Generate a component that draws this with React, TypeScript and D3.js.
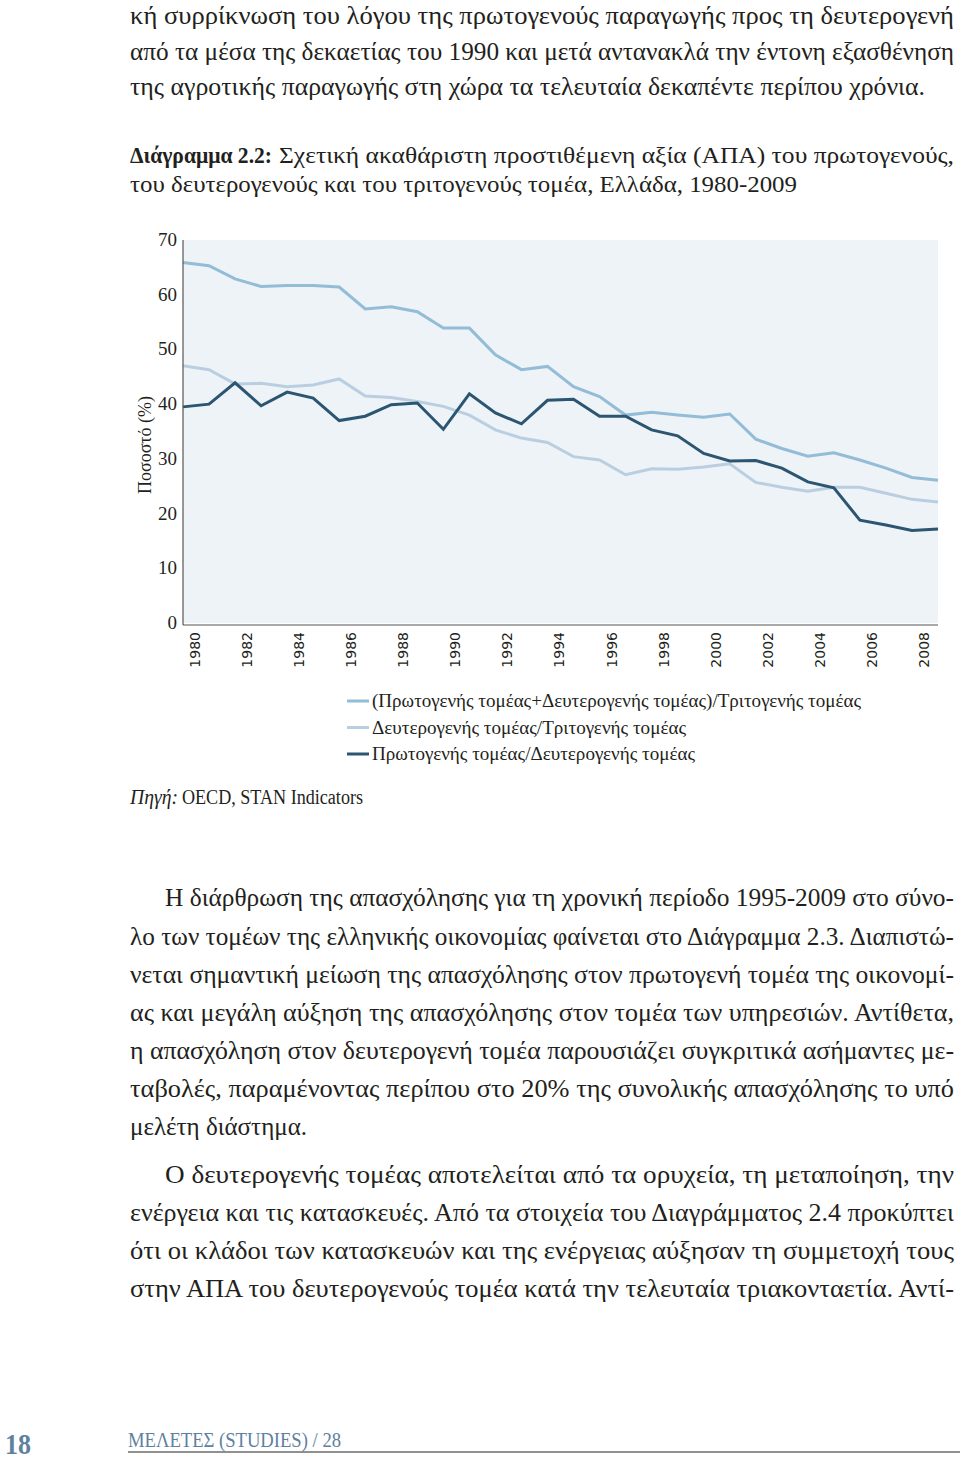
import React from "react";
import * as d3 from "d3";

const years = [1980,1981,1982,1983,1984,1985,1986,1987,1988,1989,1990,1991,1992,1993,1994,1995,1996,1997,1998,1999,2000,2001,2002,2003,2004,2005,2006,2007,2008,2009];
const primPlusSecOverTer = [65.9,65.3,62.9,61.5,61.7,61.7,61.4,57.4,57.8,56.9,53.9,53.9,49.0,46.3,46.9,43.2,41.4,38.0,38.5,38.0,37.6,38.2,33.6,31.9,30.5,31.1,29.8,28.3,26.6,26.1];
const secOverTer = [47.0,46.3,43.7,43.8,43.2,43.5,44.6,41.5,41.2,40.5,39.6,38.0,35.3,33.8,33.0,30.4,29.8,27.1,28.2,28.1,28.5,29.1,25.7,24.8,24.1,24.8,24.8,23.7,22.6,22.1];
const primOverSec = [39.5,40.0,43.9,39.7,42.2,41.1,37.0,37.8,39.9,40.2,35.4,41.9,38.4,36.4,40.7,40.9,37.8,37.8,35.3,34.2,31.0,29.6,29.7,28.3,25.8,24.7,18.8,17.9,16.9,17.2];
const xTickYears = [1980,1982,1984,1986,1988,1990,1992,1994,1996,1998,2000,2002,2004,2006,2008];
const yTicks = [0,10,20,30,40,50,60,70];
const seriesNames = [
  "(Πρωτογενής τομέας+Δευτερογενής τομέας)/Τριτογενής τομέας",
  "Δευτερογενής τομέας/Τριτογενής τομέας",
  "Πρωτογενής τομέας/Δευτερογενής τομέας",
];
const seriesColors = ["#93bcd6", "#b9cfe1", "#2b5570"];

const topLines = [
  "κή συρρίκνωση του λόγου της πρωτογενούς παραγωγής προς τη δευτερογενή",
  "από τα μέσα της δεκαετίας του 1990 και μετά αντανακλά την έντονη εξασθένηση",
  "της αγροτικής παραγωγής στη χώρα τα τελευταία δεκαπέντε περίπου χρόνια.",
];
const para1 = [
  "Η διάρθρωση της απασχόλησης για τη χρονική περίοδο 1995-2009 στο σύνο-",
  "λο των τομέων της ελληνικής οικονομίας φαίνεται στο Διάγραμμα 2.3. Διαπιστώ-",
  "νεται σημαντική μείωση της απασχόλησης στον πρωτογενή τομέα της οικονομί-",
  "ας και μεγάλη αύξηση της απασχόλησης στον τομέα των υπηρεσιών. Αντίθετα,",
  "η απασχόληση στον δευτερογενή τομέα παρουσιάζει συγκριτικά ασήμαντες με-",
  "ταβολές, παραμένοντας περίπου στο 20% της συνολικής απασχόλησης το υπό",
  "μελέτη διάστημα.",
];
const para2 = [
  "Ο δευτερογενής τομέας αποτελείται από τα ορυχεία, τη μεταποίηση, την",
  "ενέργεια και τις κατασκευές. Από τα στοιχεία του Διαγράμματος 2.4 προκύπτει",
  "ότι οι κλάδοι των κατασκευών και της ενέργειας αύξησαν τη συμμετοχή τους",
  "στην ΑΠΑ του δευτερογενούς τομέα κατά την τελευταία τριακονταετία. Αντί-",
];

const SERIF = "'Liberation Serif', 'DejaVu Serif', serif";
const SANS = "'DejaVu Sans', sans-serif";

export default function App() {
  const plotL = 183, plotR = 938, plotT = 240, plotB = 623;
  const x = d3.scaleLinear().domain([1980, 2009]).range([plotL, plotR]);
  const y = d3.scaleLinear().domain([0, 70]).range([plotB, plotT]);
  const line = d3.line<number>().x((_, i) => x(years[i])).y((d) => y(d));
  const series = [primPlusSecOverTer, secOverTer, primOverSec];

  const justified = (txt: string, x0: number, x1: number, yb: number, size: number, key: string) => (
    <text key={key} x={x0} y={yb} fontFamily={SERIF} fontSize={size} fill="#231f20"
      textLength={x1 - x0} lengthAdjust="spacingAndGlyphs">{txt}</text>
  );

  const R = 954;
  const topEnds = [R, R, 925];
  const topBase = [24, 60, 95];
  const p1Base = [906, 945, 983, 1021, 1059, 1097, 1135];
  const p2Base = [1183, 1221, 1259, 1297];

  return (
    <svg width={960} height={1462} style={{ position: "absolute", left: 0, top: 0, background: "#fff" }}>
      <rect x={0} y={0} width={960} height={1462} fill="#fff" />
      {topLines.map((t, i) => justified(t, 130, topEnds[i], topBase[i], 25, "t" + i))}

      {/* caption */}
      <text x={130} y={163} fontFamily={SERIF} fontSize={24} fontWeight="bold" fill="#231f20"
        textLength={142} lengthAdjust="spacingAndGlyphs">Διάγραμμα 2.2:</text>
      <text x={279} y={163} fontFamily={SERIF} fontSize={24} fill="#231f20"
        textLength={R - 279} lengthAdjust="spacingAndGlyphs">Σχετική ακαθάριστη προστιθέμενη αξία (ΑΠΑ) του πρωτογενούς,</text>
      <text x={130} y={192} fontFamily={SERIF} fontSize={24} fill="#231f20"
        textLength={667} lengthAdjust="spacingAndGlyphs">του δευτερογενούς και του τριτογενούς τομέα, Ελλάδα, 1980-2009</text>

      {/* chart */}
      <rect x={plotL} y={plotT} width={plotR - plotL} height={plotB - plotT} fill="#eef3f8" />
      {series.map((s, i) => (
        <path key={"s" + i} d={line(s) || ""} fill="none" stroke={seriesColors[i]} strokeWidth={3} strokeLinejoin="miter" />
      ))}
      <line x1={plotL} x2={plotL} y1={plotT} y2={plotB + 2} stroke="#555" strokeWidth={1.2} />
      <line x1={plotL} x2={plotR} y1={plotB + 2} y2={plotB + 2} stroke="#555" strokeWidth={1.2} />
      {yTicks.map((t) => (
        <text key={"y" + t} x={177} y={y(t) + 6} textAnchor="end" fontFamily={SERIF} fontSize={19} fill="#231f20">{t}</text>
      ))}
      <text transform={`translate(151,445) rotate(-90)`} textAnchor="middle" fontFamily={SERIF} fontSize={19} fill="#231f20"
        textLength={98} lengthAdjust="spacingAndGlyphs">Ποσοστό (%)</text>
      {xTickYears.map((yr) => (
        <text key={"x" + yr} transform={`translate(${x(yr) + 12},632) rotate(-90)`} textAnchor="end"
          dominantBaseline="central" fontFamily={SANS} fontSize={14} fill="#231f20">{yr}</text>
      ))}

      {/* legend */}
      {seriesNames.map((n, i) => {
        const ly = 701 + i * 26.5;
        const ends = [861, 686, 695];
        return (
          <g key={"l" + i}>
            <line x1={347} x2={369} y1={ly} y2={ly} stroke={seriesColors[i]} strokeWidth={3} />
            <text x={372} y={ly + 6} fontFamily={SERIF} fontSize={19} fill="#231f20"
              textLength={ends[i] - 372} lengthAdjust="spacingAndGlyphs">{n}</text>
          </g>
        );
      })}

      {/* source */}
      <text x={130} y={804} fontFamily={SERIF} fontSize={20} fontStyle="italic" fill="#231f20"
        textLength={48} lengthAdjust="spacingAndGlyphs">Πηγή:</text>
      <text x={182} y={804} fontFamily={SERIF} fontSize={20} fill="#231f20"
        textLength={181} lengthAdjust="spacingAndGlyphs">OECD, STAN Indicators</text>

      {/* body paragraphs */}
      {para1.map((t, i) => justified(t, i === 0 ? 165 : 130, i === para1.length - 1 ? 307 : R, p1Base[i], 25, "p1" + i))}
      {para2.map((t, i) => justified(t, i === 0 ? 165 : 130, R, p2Base[i], 25, "p2" + i))}

      {/* footer */}
      <text x={5} y={1454} fontFamily={SERIF} fontSize={29} fontWeight="bold" fill="#5d819e"
        textLength={26} lengthAdjust="spacingAndGlyphs">18</text>
      <text x={128} y={1447} fontFamily={SERIF} fontSize={21} fill="#5d819e"
        textLength={213} lengthAdjust="spacingAndGlyphs">ΜΕΛΕΤΕΣ (STUDIES) / 28</text>
      <line x1={128} x2={960} y1={1452} y2={1452} stroke="#222" strokeWidth={1} />
    </svg>
  );
}
